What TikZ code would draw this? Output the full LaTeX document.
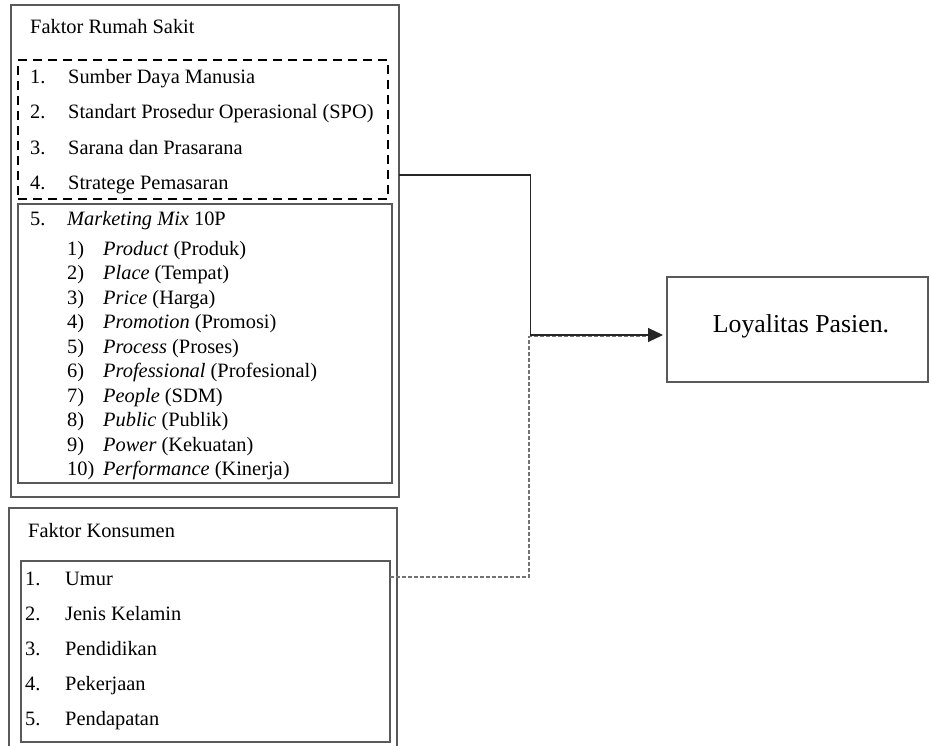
\documentclass[tikz,border=0pt]{standalone}
\usepackage{fontspec}
\setmainfont{Liberation Serif}
\usetikzlibrary{arrows.meta}
\begin{document}
\begin{tikzpicture}[x=1pt,y=-1pt,
  box/.style={draw=black!65, line width=1.3pt, inner sep=0pt, outer sep=0pt, anchor=north west},
  dbox/.style={draw=black, line width=2pt, dash pattern=on 9pt off 6pt, inner sep=0pt, outer sep=0pt, anchor=north west},
  txt/.style={anchor=base west, inner sep=0pt, font=\fontsize{20.4}{24}\selectfont},
  bigtxt/.style={anchor=base, inner sep=0pt, font=\fontsize{25.8}{30}\selectfont},
  conn/.style={draw=black!85, line width=1.1pt},
  dconn/.style={draw=black!55, line width=1.5pt, dash pattern=on 4pt off 2pt}
]
\useasboundingbox (0,0) rectangle (931,745);
\fill[white] (0,0) rectangle (931,745);

% boxes
\node[box, minimum width=388pt, minimum height=492pt] (rs) at (11,5) {};
\node[dbox, minimum width=370pt, minimum height=139pt] (db) at (18,60) {};
\node[box, minimum width=374pt, minimum height=279pt] (mm) at (18,204) {};
\node[box, minimum width=388pt, minimum height=260pt] (ks) at (9,508) {};
\node[box, minimum width=369pt, minimum height=181pt] (ki) at (21,561) {};
\node[box, minimum width=261pt, minimum height=105pt] (loy) at (667,277) {};

% Faktor Rumah Sakit
\node[txt] (t0) at (30,33) {Faktor Rumah Sakit};
\node[txt] (n1) at (30,83) {1.};    \node[txt] (s1) at (68,83) {Sumber Daya Manusia};
\node[txt] (n2) at (30,118.5) {2.}; \node[txt] (s2) at (68,118.5) {Standart Prosedur Operasional (SPO)};
\node[txt] (n3) at (30,154) {3.};   \node[txt] (s3) at (68,154) {Sarana dan Prasarana};
\node[txt] (n4) at (30,189) {4.};   \node[txt] (s4) at (68,189) {Stratege Pemasaran};
\node[txt] (n5) at (30,225) {5.};   \node[txt] (s5) at (67,225) {\textit{Marketing Mix} 10P};

\node[txt] (p1) at (67,255)    {1)};  \node[txt] (q1) at (103,255)    {\textit{Product} (Produk)};
\node[txt] (p2) at (67,279.5)  {2)};  \node[txt] (q2) at (103,279.5)  {\textit{Place} (Tempat)};
\node[txt] (p3) at (67,304)    {3)};  \node[txt] (q3) at (103,304)    {\textit{Price} (Harga)};
\node[txt] (p4) at (67,328.5)  {4)};  \node[txt] (q4) at (103,328.5)  {\textit{Promotion} (Promosi)};
\node[txt] (p5) at (67,353)    {5)};  \node[txt] (q5) at (103,353)    {\textit{Process} (Proses)};
\node[txt] (p6) at (67,377.5)  {6)};  \node[txt] (q6) at (103,377.5)  {\textit{Professional} (Profesional)};
\node[txt] (p7) at (67,402)    {7)};  \node[txt] (q7) at (103,402)    {\textit{People} (SDM)};
\node[txt] (p8) at (67,426.5)  {8)};  \node[txt] (q8) at (103,426.5)  {\textit{Public} (Publik)};
\node[txt] (p9) at (67,451)    {9)};  \node[txt] (q9) at (103,451)    {\textit{Power} (Kekuatan)};
\node[txt] (p10) at (67,475.5) {10)}; \node[txt] (q10) at (103,475.5) {\textit{Performance} (Kinerja)};

% Faktor Konsumen
\node[txt] (k0) at (28,537) {Faktor Konsumen};
\node[txt] (m1) at (25,585) {1.}; \node[txt] (k1) at (65,585) {Umur};
\node[txt] (m2) at (25,620) {2.}; \node[txt] (k2) at (65,620) {Jenis Kelamin};
\node[txt] (m3) at (25,655) {3.}; \node[txt] (k3) at (65,655) {Pendidikan};
\node[txt] (m4) at (25,690) {4.}; \node[txt] (k4) at (65,690) {Pekerjaan};
\node[txt] (m5) at (25,725) {5.}; \node[txt] (k5) at (65,725) {Pendapatan};

% Loyalitas
\node[bigtxt] (lt) at (801,332) {Loyalitas Pasien.};

% connectors
\coordinate (rsout) at (rs.east |- 0,175);
\coordinate (j) at (530.5,335);
\coordinate (jd) at (529,336.5);
\coordinate (ksout) at (ki.east |- 0,577);
\draw[dconn] (ksout) -- (jd |- ksout) -- (jd) -- ([xshift=-14pt]loy.west |- jd);
\draw[conn, -{Triangle[length=15pt,width=14pt]}] (rsout) -- (j |- rsout) -- (j) -- ([xshift=-4pt]loy.west |- j);
\end{tikzpicture}
\end{document}
